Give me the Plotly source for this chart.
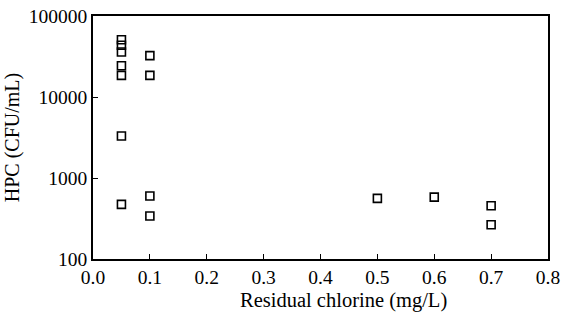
import plotly.graph_objects as go

chlorine = [0.05, 0.05, 0.05, 0.05, 0.05, 0.05, 0.05,
            0.1, 0.1, 0.1, 0.1,
            0.5, 0.6, 0.7, 0.7]
hpc = [51000, 43500, 36000, 24300, 18500, 3300, 473,
       32400, 18500, 600, 340,
       560, 580, 455, 265]

x_ticks = [0.0, 0.1, 0.2, 0.3, 0.4, 0.5, 0.6, 0.7, 0.8]
y_ticks = [100, 1000, 10000, 100000]

font = "Liberation Serif"

fig = go.Figure(go.Scatter(
    x=chlorine, y=hpc, mode="markers",
    marker=dict(symbol="square-open", size=8, color="black", line=dict(width=1.6)),
    showlegend=False,
))

fig.update_layout(
    width=564, height=320,
    margin=dict(l=93, r=16, t=16, b=61),
    plot_bgcolor="white", paper_bgcolor="white",
    font=dict(family=font, size=19.5, color="black"),
)
fig.update_xaxes(
    range=[0, 0.8], tickvals=x_ticks, ticktext=[f"{v:.1f}" for v in x_ticks],
    ticks="inside", ticklen=5, tickwidth=1, tickcolor="black",
    showline=True, linecolor="black", linewidth=1.5, mirror=True,
    showgrid=False, zeroline=False, automargin=False,
)
fig.add_annotation(
    text="Residual chlorine (mg/L)", xref="paper", yref="paper",
    x=0.5495, y=-0.172, xanchor="center", yanchor="middle",
    showarrow=False, font=dict(size=20.5),
)
fig.update_yaxes(
    type="log", range=[2, 5], tickvals=y_ticks, ticktext=[str(v) for v in y_ticks],
    ticks="inside", ticklen=5, tickwidth=1, tickcolor="black",
    showline=True, linecolor="black", linewidth=1.5, mirror=True,
    showgrid=False, zeroline=False, automargin=False,
    title=dict(text="HPC (CFU/mL)", font=dict(size=20), standoff=4),
)

fig.write_html("out.html")
